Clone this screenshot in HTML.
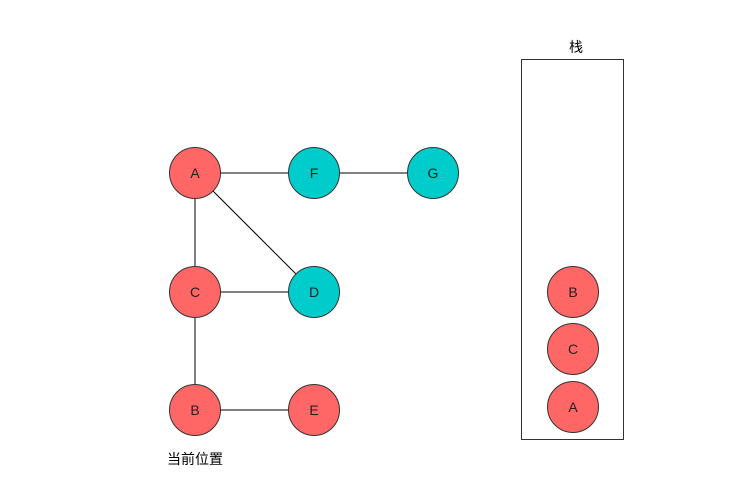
<!DOCTYPE html>
<html><head><meta charset="utf-8"><style>html,body{margin:0;padding:0;background:#fff}</style></head>
<body>
<svg width="754" height="483" xmlns="http://www.w3.org/2000/svg" style="display:block">
<g stroke="#000" stroke-width="1">
<line x1="195" y1="173" x2="433" y2="173"/>
<line x1="195" y1="173" x2="195" y2="410"/>
<line x1="195" y1="173" x2="314" y2="292"/>
<line x1="195" y1="292" x2="314" y2="292"/>
<line x1="195" y1="410" x2="314" y2="410"/>
</g>
<g stroke="#333" stroke-width="1">
<circle cx="195" cy="173" r="25.5" fill="#FF6666"/>
<circle cx="314" cy="173" r="25.5" fill="#00CCCC"/>
<circle cx="433" cy="173" r="25.5" fill="#00CCCC"/>
<circle cx="195" cy="292" r="25.5" fill="#FF6666"/>
<circle cx="314" cy="292" r="25.5" fill="#00CCCC"/>
<circle cx="195" cy="410" r="25.5" fill="#FF6666"/>
<circle cx="314" cy="410" r="25.5" fill="#FF6666"/>
<rect x="521.5" y="59.5" width="102" height="380" fill="none"/>
<circle cx="573" cy="292" r="25.5" fill="#FF6666"/>
<circle cx="573" cy="349" r="25.5" fill="#FF6666"/>
<circle cx="573" cy="407" r="25.5" fill="#FF6666"/>
</g>
<g font-family="Liberation Sans, sans-serif" font-size="14" fill="#222" text-anchor="middle">
<text x="195" y="178">A</text><text x="314" y="178">F</text><text x="433" y="178">G</text>
<text x="195" y="297">C</text><text x="314" y="297">D</text>
<text x="195" y="415">B</text><text x="314" y="415">E</text>
<text x="573" y="297">B</text><text x="573" y="354">C</text><text x="573" y="412">A</text>
</g>
<g font-family="Liberation Sans, Noto Sans CJK SC, sans-serif" font-size="14" fill="#000" text-anchor="middle">
<text x="576" y="52">栈</text>
<text x="195" y="464">当前位置</text>
</g>
</svg>
</body></html>
